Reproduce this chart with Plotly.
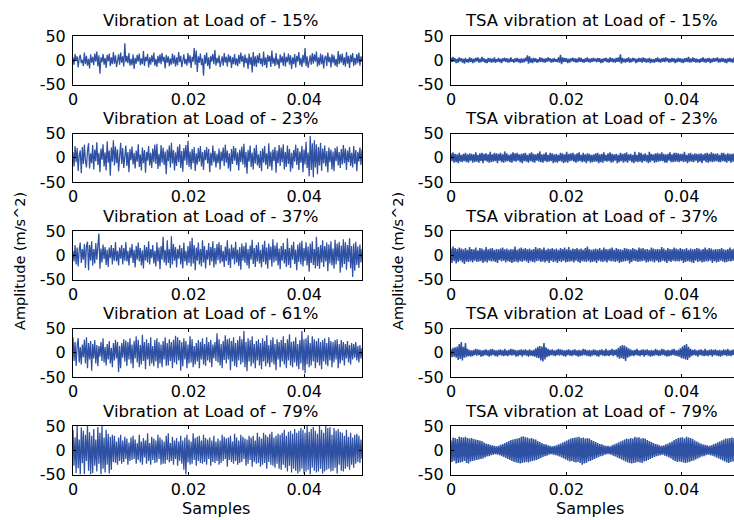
import numpy as np
import plotly.graph_objects as go

# ---------------- data (values read/estimated from the reference) ----------------
LOADS = ["15%", "23%", "37%", "61%", "79%"]
X_TICK_VALS = [0, 0.02, 0.04]
X_TICK_TEXT = ["0", "0.02", "0.04"]
Y_TICK_VALS = [-50, 0, 50]
Y_TICK_TEXT = ["-50", "0", "50"]
T_END = 0.05
RIGHT_T_VISIBLE = 0.0491

vib_15 = [6,-9,13,-2,8,-15,4,11,-6,1,-12,16,-8,9,-11,3,-17,12,-5,7,
          -10,14,-3,18,-13,10,-28,6,-4,13,-9,5,-16,11,-2,14,-12,6,-8,17,
          -7,10,-14,2,12,-9,16,-5,8,-13,35,-4,9,-6,15,-11,3,-10,12,-18,
          5,-7,11,-3,14,-10,4,-8,19,-12,7,-2,13,-15,6,-9,10,-4,16,-11,
          3,-14,9,-6,12,-8,15,-3,7,-17,11,-5,8,-12,4,-9,14,-7,10,-13,
          6,-10,17,-4,9,-14,5,12,-8,3,-11,15,-6,10,-16,7,-3,25,-9,20,
          -24,8,-5,14,-10,4,-32,11,-7,16,-12,6,-18,9,-3,13,-8,21,-11,5,
          -6,10,-14,3,8,-11,15,-5,7,-13,12,-4,9,-16,6,-8,13,-10,4,-12,
          11,-7,16,-3,9,-15,12,-6,5,-18,14,-9,7,-25,17,-12,8,-14,10,-6,
          15,-8,4,-13,18,-10,6,-16,11,-3,9,-14,20,-7,5,-12,15,-9,3,-17,
          12,-5,8,-11,16,-13,7,-4,14,-9,10,-18,6,-8,13,-15,9,-3,17,-10,
          5,-14,11,-6,25,-12,8,-16,4,10,-9,15,-7,12,-3,18,-13,6,-10,14,
          -8,11,-17,5,9,-12,16,-4,7,-15,13,-6,10,-11,3,-14,19,-8,12,-5,
          14,-10,6,-13,17,-7,9,-16,11,-4,15,-12,5,-9,13,-6,16,-11,8,-3]
vib_23 = [12,-18,24,-9,20,-27,6,15,-32,22,-13,27,-6,-20,14,30,-22,9,-11,26,
          -24,17,-7,32,-15,10,-30,19,-4,28,-18,11,-26,34,-10,15,-37,21,-8,36,
          -16,23,-11,17,-28,9,31,-13,20,-21,6,25,-17,12,-30,18,-5,23,-14,10,
          -22,15,-8,28,-19,7,-26,21,-11,16,-31,12,-6,24,-16,10,-21,19,-9,27,
          -13,29,-23,8,-18,26,-10,21,-15,13,-34,17,-7,25,-20,31,-12,16,-26,11,
          -17,23,-9,28,-21,14,-29,20,-6,26,-15,35,-19,13,-24,18,-11,22,-27,9,
          -14,20,-8,24,-18,12,-25,16,-5,22,-12,18,-30,10,-16,25,-9,14,-20,8,
          -11,19,-24,13,-7,21,-17,27,-10,15,-22,9,-28,18,-13,24,-6,20,-15,11,
          -26,17,-9,23,-14,29,-20,12,-33,16,-8,25,-19,11,-24,20,-12,27,-16,7,
          -21,14,-28,19,-10,24,-15,9,-23,30,-18,13,-26,17,-7,22,-31,15,-11,26,
          -17,21,-9,28,-24,12,-19,25,-13,18,-29,10,-22,16,-8,27,-15,20,-25,13,
          -10,24,-30,17,-14,33,-21,11,-38,45,-25,30,-40,36,-20,28,-34,22,-16,31,
          -27,19,-12,25,-18,14,-30,21,-9,17,-24,13,-28,20,-7,23,-16,12,-21,18,
          -14,26,-11,19,-25,15,-9,22,-17,10,-20,24,-13,16,-28,12,-8,21,-15,17]
vib_37 = [9,-13,21,-19,16,-23,11,26,-16,13,-9,23,-26,19,28,-31,21,-11,29,-21,
          13,-17,25,-9,19,45,-28,14,-15,22,-8,17,-20,12,-24,16,-6,21,-19,15,
          -11,27,-13,9,-21,16,-7,21,-19,15,-11,27,-13,9,-21,16,-6,23,-16,11,
          -25,19,-9,26,-13,15,-21,10,-27,21,-11,17,-15,29,-19,13,-6,21,-17,9,
          -23,27,-13,16,-29,19,-9,38,-15,11,-21,31,-16,13,-26,39,-19,23,-11,17,
          -25,13,-7,21,-19,15,-27,26,-13,9,-21,19,-16,29,-23,36,-17,21,-31,16,
          -11,26,-19,13,-23,31,-15,19,-27,11,-9,25,-21,17,-13,29,-25,15,-19,23,
          -10,27,-17,21,-14,9,-24,18,-12,31,-20,14,-26,22,-8,16,-19,28,-15,12,
          -22,17,-30,24,-11,19,-16,26,-21,13,-27,20,-9,32,-18,15,-24,21,-13,27,
          -17,11,-25,22,-14,30,-19,16,-28,24,-10,18,-23,33,-15,20,-12,26,-21,14,
          -29,19,-11,25,-17,13,-24,35,-20,15,-26,21,-9,28,-18,12,-31,22,-14,26,
          -19,30,-23,15,-12,27,-21,18,-34,24,-16,29,-20,13,-27,38,-22,17,-28,21,
          -15,31,-24,19,-13,26,-33,22,-17,29,-21,14,-28,32,-19,24,-12,28,-36,20,
          -25,33,-18,27,-30,21,-14,35,-27,19,-45,24,-32,28,-20,18,-26,22,-15,13]
vib_61 = [32,-17,22,-27,14,30,-20,12,-24,17,-9,27,-22,32,-32,20,-14,24,-37,18,
          -12,26,-22,16,-28,14,-8,22,-17,30,-20,12,-26,18,-14,24,-22,10,-30,20,
          -16,27,-12,22,-40,14,-32,20,-10,28,-18,25,-27,22,-14,30,-22,17,-32,24,
          -12,34,-20,27,-30,16,-24,37,-17,22,-34,28,-14,20,-27,32,-22,14,-28,26,
          -18,30,-32,22,-22,17,-30,24,-14,32,-27,20,-26,28,-17,22,-32,27,-20,35,
          -24,32,-16,26,-37,22,-28,30,-14,24,-32,17,-22,34,-20,28,-30,14,-24,20,
          -18,26,-32,22,-14,30,-24,18,-27,32,-16,22,-20,27,-30,17,-12,22,-17,40,
          -20,28,-26,18,-32,24,-15,36,-22,28,-14,30,-36,24,-18,32,-27,20,-30,26,
          -16,34,-24,28,-20,45,-30,22,-38,30,-18,26,-28,34,-22,18,-32,24,-16,28,
          -26,20,-34,30,-18,24,-28,36,-22,16,-30,26,-20,32,-24,18,-36,28,-14,22,
          -30,26,-18,34,-24,20,-32,28,-16,38,-26,22,-30,24,-20,32,-28,18,-34,26,
          -22,45,-36,28,-42,30,-24,36,-30,20,-26,34,-18,28,-32,24,-20,30,-26,22,
          -34,26,-18,30,-24,20,-28,32,-16,24,-30,22,-20,26,-14,28,-32,18,-22,26,
          -16,22,-26,18,-12,24,-20,16,-24,20,-14,18,-10,22,-16,14,-20,16,-12,10]
vib_79 = [42,-32,27,-47,50,-37,22,-50,47,-27,40,-49,32,-22,50,-42,37,-50,30,-47,
          44,-32,22,-44,48,-28,36,-50,50,-38,26,-46,42,-30,34,-48,28,-40,32,-24,
          30,-26,18,-30,26,-22,32,-28,20,-24,28,-18,24,-30,16,-22,26,-20,30,-18,
          22,-28,15,-20,32,-25,18,-30,25,-15,20,-28,35,-22,15,-30,28,-20,24,-26,
          20,-25,32,-18,26,-30,22,-28,18,-28,30,-20,35,-25,15,-22,28,-30,20,-18,
          25,-32,18,-22,30,-28,20,-40,26,-50,32,-25,22,-30,18,-28,35,-20,25,-32,
          28,-22,30,-26,20,-28,32,-24,25,-30,22,-18,26,-32,20,-24,30,-26,18,-22,
          24,-30,20,-26,32,-22,28,-18,24,-34,26,-20,30,-24,18,-28,34,-22,26,-30,
          20,-26,32,-24,28,-18,24,-32,22,-28,30,-20,26,-34,30,-24,20,-28,36,-26,
          28,-34,24,-30,36,-26,32,-38,28,-24,34,-30,38,-32,26,-36,30,-28,34,-38,
          32,-40,36,-30,42,-36,30,-44,38,-32,40,-46,34,-38,44,-42,36,-48,40,-44,
          46,-38,42,-48,36,-44,50,-40,38,-50,44,-36,48,-42,40,-46,34,-44,50,-38,
          42,-48,36,-44,50,-40,46,-38,48,-44,32,-42,46,-36,40,-48,44,-30,38,-42,
          36,-44,30,-38,42,-34,28,-40,36,-30,26,-36,32,-28,34,-24,30,-26,22,-18]

tsa_15 = [5,-4,7,-3,4,-6,3,-5,6,-2,4,-5,3,-7,5,-4,2,-5,6,-3,
          4,-6,3,-4,5,-2,6,-5,3,-4,7,-3,4,-5,2,-6,5,-3,4,-5,
          3,-4,6,-5,2,-3,5,-4,3,-6,4,-2,5,-3,4,-5,3,-4,6,-3,
          2,-5,4,-3,5,-4,3,-6,4,-5,3,-4,5,-2,10,-7,8,-5,4,-6,
          5,-3,4,-5,2,-4,6,-3,5,-4,3,-5,4,-3,6,-2,4,-5,3,-4,
          5,-3,2,-4,6,-5,11,-8,6,-4,5,-3,4,-6,3,-5,4,-2,5,-3,
          4,-5,3,-4,6,-3,5,-4,2,-5,4,-3,6,-4,3,-5,4,-3,5,-2,
          3,-4,5,-3,4,-6,3,-5,4,-2,5,-4,3,-5,6,-3,4,-4,3,-5,
          5,-3,6,-4,12,-7,5,-4,3,-5,4,-3,6,-5,3,-4,5,-2,4,-6,
          3,-4,5,-3,4,-5,6,-3,4,-5,3,-4,5,-6,3,-4,2,-5,4,-3,
          6,-4,3,-5,4,-3,5,-4,6,-2,4,-5,3,-4,5,-3,4,-6,3,-4,
          5,-3,4,-5,3,-6,4,-3,5,-4,7,-5,3,-4,6,-3,4,-5,3,-4,
          2,-5,4,-3,6,-4,3,-5,4,-3,5,-6,3,-4,5,-3,4,-2,6,-5,
          3,-4,5,-3,4,-5,3,-6,4,-3,5,-4,3,-5,6,-4,3,-5,4,-3]
tsa_23 = [9,-7,11,-10,8,-9,7,-11,10,-8,6,-9,8,-7,10,-9,7,-10,9,-6,
          8,-10,7,-9,11,-8,6,-10,9,-7,10,-11,8,-6,9,-8,7,-10,12,-9,
          7,-8,10,-7,9,-11,8,-6,10,-9,7,-10,13,-8,9,-7,6,-9,8,-10,
          11,-7,9,-8,10,-6,7,-9,8,-11,9,-7,10,-8,6,-10,9,-7,11,-9,
          8,-10,7,-6,9,-8,13,-9,7,-10,8,-7,11,-9,6,-8,10,-7,9,-11,
          7,-9,8,-10,6,-7,10,-8,9,-11,7,-9,12,-10,8,-7,9,-6,10,-8,
          7,-10,9,-8,11,-7,6,-9,10,-8,7,-11,9,-7,8,-10,6,-9,7,-8,
          9,-8,10,-11,7,-9,8,-10,11,-7,6,-8,9,-7,11,-10,8,-9,7,-6,
          8,-11,6,-9,10,-7,8,-10,9,-8,11,-10,7,-6,8,-9,6,-11,12,-8,
          6,-9,11,-8,10,-10,7,-7,9,-8,6,-11,12,-9,8,-6,7,-10,9,-9,
          10,-8,8,-7,11,-7,8,-10,7,-10,8,-6,11,-9,7,-9,10,-8,10,-8,
          9,-9,8,-7,8,-9,12,-8,6,-11,9,-8,10,-8,7,-9,9,-6,8,-10,
          8,-8,9,-11,7,-6,9,-9,10,-10,8,-8,11,-9,9,-8,8,-7,9,-9,
          6,-9,10,-7,10,-8,7,-10,9,-7,8,-10,8,-8,9,-9,7,-8,8,-7]
tsa_37 = [14,-16,18,-12,15,-17,13,-14,16,-11,14,-15,12,-18,15,-13,11,-14,17,-12,
          13,-15,12,-11,16,-14,10,-13,15,-12,14,-16,11,-13,17,-15,12,-11,14,-13,
          15,-12,11,-14,13,-16,12,-10,14,-13,16,-11,12,-15,14,-12,11,-14,13,-16,
          12,-14,18,-13,11,-15,14,-12,16,-14,13,-11,15,-13,12,-16,14,-12,11,-14,
          13,-15,17,-12,14,-11,15,-14,12,-13,16,-15,11,-12,14,-16,13,-11,15,-14,
          12,-13,14,-16,11,-12,15,-14,13,-11,16,-15,12,-14,17,-13,11,-12,14,-15,
          13,-11,15,-14,12,-16,14,-12,11,-13,15,-14,18,-12,13,-15,11,-14,12,-13,
          14,-16,12,-11,15,-13,11,-14,16,-12,13,-15,12,-11,14,-13,16,-12,11,-14,
          15,-12,13,-16,12,-14,11,-13,15,-12,14,-11,13,-17,12,-14,15,-11,13,-12,
          11,-14,16,-13,14,-12,15,-11,12,-15,13,-14,11,-12,16,-13,14,-15,12,-11,
          13,-15,12,-14,17,-11,14,-13,11,-16,15,-12,13,-14,12,-11,16,-13,14,-12,
          12,-13,15,-11,13,-16,12,-14,15,-12,11,-13,14,-15,12,-16,13,-11,15,-14,
          14,-12,11,-15,13,-14,16,-12,12,-13,15,-11,14,-16,11,-12,13,-15,12,-14,
          13,-11,15,-13,12,-15,11,-14,13,-12,16,-13,12,-11,14,-13,12,-15,11,-12]
tsa_61 = [7,-9,10,-8,11,-10,13,-15,18,-13,22,-16,12,-10,20,-9,8,-7,6,-8,
          5,-7,6,-5,8,-6,7,-5,6,-8,5,-7,6,-5,7,-6,5,-8,7,-6,
          8,-5,6,-7,5,-8,6,-5,7,-6,5,-7,8,-6,5,-7,6,-5,8,-6,
          7,-5,6,-8,5,-7,6,-5,7,-8,6,-5,7,-6,5,-8,7,-6,5,-7,
          6,-8,9,-10,12,-11,14,-16,13,-18,20,-14,11,-9,8,-7,6,-5,7,-6,
          5,-7,6,-5,8,-6,7,-5,6,-7,5,-8,6,-5,7,-6,5,-7,6,-5,
          7,-6,5,-8,6,-7,5,-6,8,-5,7,-6,5,-7,6,-8,5,-6,7,-5,
          6,-7,5,-8,6,-5,7,-6,5,-7,8,-6,5,-7,6,-5,8,-7,6,-5,
          7,-9,10,-12,14,-11,16,-13,15,-17,12,-10,9,-8,7,-6,5,-7,6,-5,
          8,-6,5,-7,6,-5,7,-8,6,-5,7,-6,5,-8,6,-7,5,-6,8,-5,
          6,-7,5,-6,8,-5,7,-6,5,-8,6,-7,5,-6,7,-5,8,-6,5,-7,
          6,-8,9,-11,13,-12,16,-14,18,-15,12,-10,8,-7,6,-5,7,-6,5,-8,
          6,-5,7,-6,5,-7,8,-6,5,-7,6,-5,7,-8,6,-5,7,-6,5,-7,
          6,-8,5,-6,7,-5,6,-7,8,-6,5,-7,6,-5,7,-6,5,-8,6,-5]
tsa_79 = [20,-24,26,-22,25,-27,23,-26,28,-25,27,-24,26,-22,28,-26,25,-27,24,-23,
          25,-22,23,-21,22,-20,21,-19,20,-18,19,-17,16,-15,14,-13,13,-12,11,-10,
          10,-9,9,-8,8,-9,9,-10,11,-12,13,-14,15,-16,17,-18,19,-20,21,-22,
          22,-24,23,-25,24,-26,25,-27,28,-26,29,-25,27,-24,26,-25,24,-23,25,-22,
          23,-21,22,-20,19,-18,17,-16,15,-14,13,-12,12,-11,10,-9,9,-8,8,-9,
          9,-10,10,-11,12,-13,14,-15,16,-17,18,-19,20,-21,22,-23,24,-22,25,-24,
          26,-25,27,-24,28,-26,25,-30,26,-27,24,-26,25,-23,24,-22,21,-20,19,-18,
          17,-16,15,-14,13,-12,12,-11,10,-9,9,-8,9,-8,8,-9,10,-11,12,-13,
          14,-15,16,-17,18,-19,20,-21,22,-23,24,-25,23,-26,25,-27,24,-26,28,-25,
          26,-24,27,-25,24,-26,25,-23,24,-22,21,-20,19,-18,17,-16,15,-14,13,-12,
          12,-11,10,-10,9,-9,10,-11,12,-13,14,-15,16,-17,18,-20,21,-22,23,-24,
          25,-23,26,-24,27,-25,24,-26,28,-25,26,-24,25,-22,23,-21,20,-19,18,-17,
          16,-15,14,-13,12,-12,11,-10,10,-9,9,-10,10,-11,12,-13,14,-15,16,-17,
          18,-19,20,-21,22,-23,24,-25,24,-26,25,-24,26,-23,25,-24,23,-25,24,-22]

LEFT_SERIES = [vib_15, vib_23, vib_37, vib_61, vib_79]
RIGHT_SERIES = [tsa_15, tsa_23, tsa_37, tsa_61, tsa_79]

# ---------------- layout geometry (pixels) ----------------
W, H = 734, 520
ROW_TOPS = [36, 133.5, 231, 328.5, 426]
ROW_H = 48.5
LEFT_X = (73, 362)
RIGHT_X = (451, 734)

LINE_COLOR = "#2F51A3"
LINE_W = {0: 1.25, 1: 1.5}
FONT = "DejaVu Sans"
FS_TICK = 16
FS_TITLE = 16.5
FS_YLAB = 14.5


def px(x):
    return x / W


def py(y):
    return 1 - y / H


fig = go.Figure()
annotations = []
for r in range(5):
    for c in range(2):
        idx = r * 2 + c + 1
        xa = "x" if idx == 1 else f"x{idx}"
        ya = "y" if idx == 1 else f"y{idx}"
        yvals = (LEFT_SERIES if c == 0 else RIGHT_SERIES)[r]
        xs = np.linspace(0, T_END, len(yvals))
        fig.add_trace(go.Scatter(x=xs, y=yvals, mode="lines",
                                 line=dict(color=LINE_COLOR, width=LINE_W[c]),
                                 xaxis=xa, yaxis=ya, showlegend=False,
                                 hoverinfo="skip"))
        xd = LEFT_X if c == 0 else RIGHT_X
        top = ROW_TOPS[r]
        bot = top + ROW_H
        xkey = "xaxis" if idx == 1 else f"xaxis{idx}"
        ykey = "yaxis" if idx == 1 else f"yaxis{idx}"
        fig.update_layout(**{
            xkey: dict(domain=[px(xd[0]), px(xd[1])], anchor=ya,
                       range=[0, T_END if c == 0 else RIGHT_T_VISIBLE],
                       tickvals=X_TICK_VALS, ticktext=X_TICK_TEXT,
                       ticks="inside", ticklen=3, tickcolor="black",
                       showline=True, linecolor="black", linewidth=1,
                       mirror="ticks", showgrid=False, zeroline=False,
                       automargin=False,
                       tickfont=dict(family=FONT, size=FS_TICK, color="black"),
                       ticklabelstandoff=0),
            ykey: dict(domain=[py(bot), py(top)], anchor=xa,
                       range=[-50, 50],
                       tickvals=Y_TICK_VALS, ticktext=Y_TICK_TEXT,
                       ticks="inside", ticklen=3, tickcolor="black",
                       showline=True, linecolor="black", linewidth=1,
                       mirror="ticks" if c == 0 else False,
                       showgrid=False, zeroline=False, automargin=False,
                       tickfont=dict(family=FONT, size=FS_TICK, color="black"),
                       ticklabelstandoff=3),
        })
        prefix = "Vibration at Load of - " if c == 0 else "TSA vibration at Load of - "
        cx = 210 if c == 0 else 591
        annotations.append(dict(text=prefix + LOADS[r], x=px(cx), y=py(top - 15),
                                xref="paper", yref="paper", showarrow=False,
                                xanchor="center", yanchor="middle",
                                font=dict(family=FONT, size=FS_TITLE, color="black")))

for cx in (216, 590):
    annotations.append(dict(text="Samples", x=px(cx), y=py(508), xref="paper", yref="paper",
                            showarrow=False, xanchor="center", yanchor="middle",
                            font=dict(family=FONT, size=FS_TICK, color="black")))
for cx in (20, 398):
    annotations.append(dict(text="Amplitude (m/s^2)", x=px(cx), y=py(261), xref="paper", yref="paper",
                            showarrow=False, xanchor="center", yanchor="middle", textangle=-90,
                            font=dict(family=FONT, size=FS_YLAB, color="black")))

fig.update_layout(template="none", width=W, height=H,
                  margin=dict(l=0, r=0, t=0, b=0, pad=0),
                  paper_bgcolor="white", plot_bgcolor="white",
                  annotations=annotations, showlegend=False)

fig.write_html("out.html")
